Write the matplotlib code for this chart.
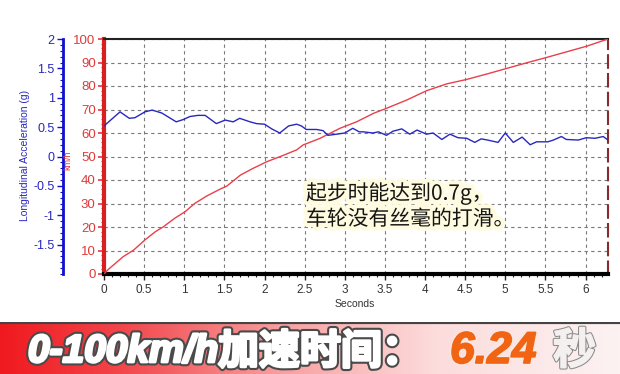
import numpy as np
import matplotlib
matplotlib.use("Agg")
import matplotlib.pyplot as plt
from matplotlib.ticker import MultipleLocator, FixedLocator
from matplotlib.colors import LinearSegmentedColormap
import matplotlib.patheffects as pe

# ---------------- data ----------------
speed_t = [0, 0.055, 0.24, 0.37, 0.51, 0.64, 0.74, 0.88, 1.01, 1.13, 1.28, 1.44, 1.53,
           1.7, 1.86, 2.03, 2.19, 2.4, 2.48, 2.69, 2.94, 3.15, 3.36, 3.52, 3.77, 4.02,
           4.27, 4.52, 4.77, 5.02, 5.27, 5.52, 5.77, 6.02, 6.28]
speed_kmh = [0, 2, 7.4, 10.2, 14.5, 18, 20.1, 23.7, 26.5, 30, 33.2, 36, 37.4,
             42.1, 45, 47.8, 49.9, 52.8, 54.9, 57.7, 62, 64.8, 68.4, 70.5, 74, 78,
             80.9, 82.8, 85.1, 87.5, 89.9, 92.2, 94.6, 97, 100]

acc_t = [0, 0.2, 0.315, 0.385, 0.51, 0.6, 0.72, 0.9, 0.99, 1.07, 1.17, 1.26, 1.4, 1.51,
         1.61, 1.69, 1.82, 1.9, 2.0, 2.09, 2.19, 2.3, 2.4, 2.46, 2.52, 2.65, 2.73, 2.79,
         2.9, 3.0, 3.1, 3.18, 3.23, 3.35, 3.42, 3.52, 3.6, 3.71, 3.81, 3.9, 4.02, 4.1,
         4.21, 4.31, 4.41, 4.52, 4.62, 4.7, 4.78, 4.91, 5.0, 5.1, 5.21, 5.31, 5.39,
         5.53, 5.6, 5.7, 5.76, 5.91, 6.01, 6.12, 6.22, 6.28]
acc_g = [0.52, 0.76, 0.65, 0.66, 0.76, 0.79, 0.74, 0.59, 0.63, 0.68, 0.70, 0.70, 0.56, 0.62,
         0.59, 0.65, 0.59, 0.56, 0.55, 0.47, 0.40, 0.52, 0.55, 0.52, 0.46, 0.46, 0.44, 0.36,
         0.38, 0.40, 0.48, 0.42, 0.42, 0.40, 0.42, 0.36, 0.43, 0.47, 0.38, 0.45, 0.38, 0.40,
         0.29, 0.38, 0.32, 0.31, 0.24, 0.30, 0.28, 0.24, 0.40, 0.24, 0.33, 0.20, 0.25,
         0.25, 0.28, 0.34, 0.29, 0.28, 0.32, 0.31, 0.34, 0.28]

x_ticks = [0, 0.5, 1, 1.5, 2, 2.5, 3, 3.5, 4, 4.5, 5, 5.5, 6]
x_tick_labels = ["0", "0.5", "1", "1.5", "2", "2.5", "3", "3.5", "4", "4.5", "5", "5.5", "6"]
speed_ticks = [0, 10, 20, 30, 40, 50, 60, 70, 80, 90, 100]
acc_ticks = [-1.5, -1, -0.5, 0, 0.5, 1, 1.5, 2]
acc_tick_labels = ["-1.5", "-1", "-0.5", "0", "0.5", "1", "1.5", "2"]

note_text = "起步时能达到0.7g，\n车轮没有丝毫的打滑。"
banner_latin = "0-100km/h"
banner_cjk = "加速时间："
time_text = "6.24"
unit_text = "秒"

# ---------------- figure ----------------
W, H = 620, 374
fig = plt.figure(figsize=(W / 100, H / 100), dpi=100, facecolor="white")

def fx(px):
    return px / W

def fy(py):
    return 1 - py / H

RED = "#e03a3a"
BLUE = "#2828c0"
GRID = "#7a7a7a"
tickfont = ["Liberation Sans", "DejaVu Sans"]

ax = fig.add_axes([fx(104), fy(274), fx(608) - fx(104), fy(39) - fy(274)])
ax.set_facecolor("white")
ax.set_xlim(0, 6.28)
ax.set_ylim(0, 100)

ax.plot(speed_t, speed_kmh, color="#e8404a", lw=1.0, zorder=3)

ax.xaxis.set_major_locator(FixedLocator(x_ticks))
ax.set_xticklabels(x_tick_labels, fontsize=8.5, color="#333333", family=tickfont)
ax.xaxis.set_minor_locator(MultipleLocator(0.1))
ax.yaxis.set_major_locator(FixedLocator(speed_ticks))
ax.set_yticklabels([str(v) for v in speed_ticks], fontsize=9.5, color=RED, family=tickfont)
ax.yaxis.set_minor_locator(MultipleLocator(2))
ax.tick_params(axis="x", which="major", direction="out", length=4, width=1, color="#222222", pad=3)
ax.tick_params(axis="x", which="minor", direction="out", length=2, width=0.8, color="#222222")
ax.tick_params(axis="y", which="major", direction="out", length=4, width=1.2, color=RED, pad=2)
ax.tick_params(axis="y", which="minor", direction="out", length=2, width=0.8, color=RED)

ax.grid(True, which="major", color=GRID, linestyle=(0, (3, 3)), linewidth=0.8)
ax.set_axisbelow(True)

ax.spines["left"].set_color("#d82020")
ax.spines["left"].set_linewidth(3)
ax.spines["bottom"].set_color("black")
ax.spines["bottom"].set_linewidth(3)
ax.spines["top"].set_color("#222222")
ax.spines["top"].set_linewidth(1.5)
ax.spines["right"].set_color("#8a2a2a")
ax.spines["right"].set_linewidth(1.5)
ax.spines["right"].set_linestyle((0, (6, 3)))

# acceleration axis (blue, offset to the left)
ax2 = ax.twinx()
ax2.set_ylim(-2, 2)
ax2.yaxis.set_label_position("left")
ax2.yaxis.tick_left()
ax2.spines["left"].set_position(("outward", 41 * 72 / 100))
ax2.spines["left"].set_color("#1010d0")
ax2.spines["left"].set_linewidth(2)
for s in ["right", "top", "bottom"]:
    ax2.spines[s].set_visible(False)
ax2.yaxis.set_major_locator(FixedLocator(acc_ticks))
ax2.set_yticklabels(acc_tick_labels, fontsize=9, color=BLUE, family=tickfont)
ax2.yaxis.set_minor_locator(MultipleLocator(0.1))
ax2.tick_params(axis="y", which="major", direction="out", length=4, width=1, color="#1010d0", pad=2)
ax2.tick_params(axis="y", which="minor", direction="out", length=2, width=0.8, color="#1010d0")
ax2.plot(acc_t, acc_g, color=BLUE, lw=1.0, zorder=4)

fig.text(fx(25), fy(155), "Longitudinal Acceleration (g)", rotation=90, ha="center", va="center",
         fontsize=7.5, color=BLUE, family=tickfont)
fig.text(fx(68), fy(160), "km/h", rotation=90, ha="center", va="center",
         fontsize=6.5, color=RED, family=tickfont)
fig.text(fx(355), fy(304), "Seconds", ha="center", va="center",
         fontsize=7.5, color="#333333", family=tickfont)

fig.text(fx(306), fy(206), note_text, ha="left", va="center", fontsize=15, color="#151515",
         family=["Noto Sans CJK SC", "DejaVu Sans"], style="italic", linespacing=1.2,
         path_effects=[pe.withStroke(linewidth=6, foreground="#fffbe0")], zorder=10)

# ---------------- banner ----------------
bax = fig.add_axes([0, 0, 1, fy(322)])
bax.set_axis_off()
cmap = LinearSegmentedColormap.from_list("banner", [
    (0.0, (0.94, 0.10, 0.12)),
    (0.2, (0.95, 0.28, 0.30)),
    (0.45, (0.97, 0.62, 0.62)),
    (0.7, (0.99, 0.86, 0.86)),
    (1.0, (0.99, 0.95, 0.95)),
])
grad = np.linspace(0, 1, 256).reshape(1, -1)
bax.imshow(grad, aspect="auto", cmap=cmap, extent=[0, 1, 0, 1])
bax.set_xlim(0, 1)
bax.set_ylim(0, 1)
bax.plot([0, 1], [1, 1], color="#444444", lw=3, solid_capstyle="butt")

bold_white = [pe.Stroke(linewidth=5, foreground="#4a4a4a"),
              pe.Stroke(linewidth=2, foreground="white"), pe.Normal()]
fig.text(fx(28), fy(362), banner_latin, ha="left", va="baseline", fontsize=28, color="white",
         family=["Liberation Sans", "Noto Sans CJK SC"], weight="bold", style="italic",
         path_effects=bold_white)
fig.text(fx(218), fy(364), banner_cjk, ha="left", va="baseline", fontsize=29.5, color="white",
         family=["Noto Sans CJK SC", "DejaVu Sans"], weight="bold",
         path_effects=bold_white)
fig.text(fx(450), fy(363), time_text, ha="left", va="baseline", fontsize=32, color="#f06414",
         family=["Liberation Sans", "Noto Sans CJK SC"], weight="bold", style="italic",
         path_effects=[pe.Stroke(linewidth=3, foreground="#fbe8e0"),
                       pe.Stroke(linewidth=1.2, foreground="#f06414"), pe.Normal()])
fig.text(fx(553), fy(364), unit_text, ha="left", va="baseline", fontsize=31, color="#f4f0f0",
         family=["Noto Sans CJK SC", "DejaVu Sans"], weight="bold",
         path_effects=[pe.Stroke(linewidth=2.5, foreground="#8a8a8a"),
                       pe.Stroke(linewidth=1, foreground="#f4f0f0"), pe.Normal()])

fig.savefig("out.png", dpi=100, facecolor="white")
